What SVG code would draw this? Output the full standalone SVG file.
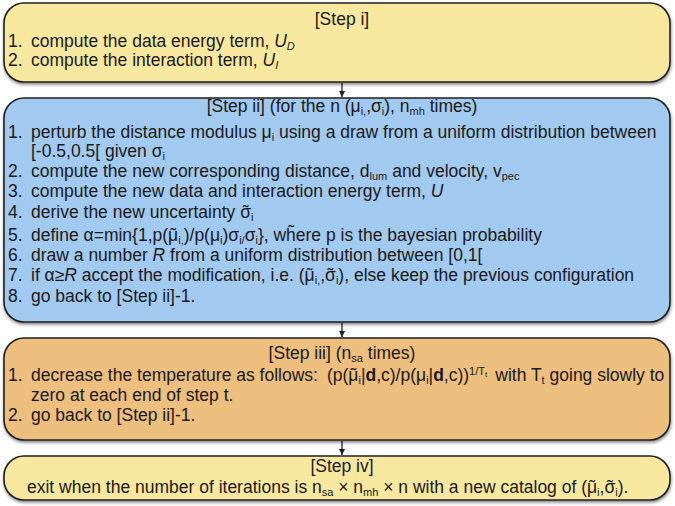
<svg xmlns="http://www.w3.org/2000/svg" width="675" height="506" viewBox="0 0 675 506">
<style>
text{font-family:"Liberation Sans",Arial,"DejaVu Sans",sans-serif;font-size:17.5px;fill:#1a1a1a}
.box{stroke:#1f1f1f;stroke-width:1.6;filter:url(#sh)}
.y{fill:#F8E89F}
.b{fill:#A2C9EF}
.o{fill:#EDBE7E}
.s{font-size:11px}
.c{text-anchor:middle}
.conn{stroke:#1f1f1f;stroke-width:1.3;fill:none;marker-end:url(#ah)}
</style>
<defs>
<filter id="sh" x="-5%" y="-10%" width="110%" height="130%">
<feDropShadow dx="0.5" dy="2" stdDeviation="1.5" flood-color="#000" flood-opacity="0.45"/>
</filter>
<marker id="ah" markerWidth="8" markerHeight="8" refX="6" refY="3" orient="auto" markerUnits="userSpaceOnUse">
<path d="M0,0 L6,3 L0,6 z" fill="#1f1f1f"/>
</marker>
</defs>

<g id="connectors">
<line class="conn" x1="342" y1="83" x2="342" y2="97"/>
<line class="conn" x1="342" y1="323" x2="342" y2="337"/>
<line class="conn" x1="342" y1="441" x2="342" y2="455"/>
</g>

<g id="step-i">
<rect class="box y" x="4" y="3" width="666" height="79" rx="20"/>
<text class="c" x="342" y="25">[Step i]</text>
<text y="47"><tspan x="8">1.</tspan><tspan x="31">compute the data energy term, </tspan><tspan font-style="italic">U</tspan><tspan class="s" font-style="italic" dy="3">D</tspan></text>
<text y="66"><tspan x="8">2.</tspan><tspan x="31">compute the interaction term, </tspan><tspan font-style="italic">U</tspan><tspan class="s" font-style="italic" dy="3">I</tspan></text>
</g>

<g id="step-ii">
<rect class="box b" x="4" y="98" width="666" height="224" rx="20"/>
<text class="c" x="342" y="112">[Step ii] (for the n (μ<tspan class="s" dy="3">i,</tspan><tspan dy="-3">,σ</tspan><tspan class="s" dy="3">i</tspan><tspan dy="-3">), n</tspan><tspan class="s" dy="3">mh</tspan><tspan dy="-3"> times)</tspan></text>
<text y="138"><tspan x="8">1.</tspan><tspan x="31">perturb the distance modulus μ</tspan><tspan class="s" dy="3">i</tspan><tspan dy="-3"> using a draw from a uniform distribution between</tspan></text>
<text y="157"><tspan x="31">[-0.5,0.5[ given σ</tspan><tspan class="s" dy="3">i</tspan></text>
<text y="177"><tspan x="8">2.</tspan><tspan x="31">compute the new corresponding distance, d</tspan><tspan class="s" dy="3">lum</tspan><tspan dy="-3"> and velocity, v</tspan><tspan class="s" dy="3">pec</tspan></text>
<text y="197"><tspan x="8">3.</tspan><tspan x="31">compute the new data and interaction energy term, </tspan><tspan font-style="italic">U</tspan></text>
<text y="218"><tspan x="8">4.</tspan><tspan x="31">derive the new uncertainty σ</tspan><tspan dx="-8.3">˜</tspan><tspan class="s" dx="2.5" dy="3">i</tspan></text>
<text y="241"><tspan x="8">5.</tspan><tspan x="31">define α=min{1,p(μ</tspan><tspan dx="-7.9">˜</tspan><tspan class="s" dx="2.1" dy="3">i,</tspan><tspan dy="-3">)/p(μ</tspan><tspan class="s" dy="3">i</tspan><tspan dy="-3">)σ</tspan><tspan class="s" dy="3">i/</tspan><tspan dy="-3">σ</tspan><tspan class="s" dy="3">i</tspan><tspan dy="-3">}, wh</tspan><tspan dx="-7.7" dy="-3">˜</tspan><tspan dx="1.8" dy="3">ere p is the bayesian probability</tspan></text>
<text y="261"><tspan x="8">6.</tspan><tspan x="31">draw a number </tspan><tspan font-style="italic">R</tspan><tspan> from a uniform distribution between [0,1[</tspan></text>
<text y="281"><tspan x="8">7.</tspan><tspan x="31">if α≥</tspan><tspan font-style="italic">R</tspan><tspan> accept the modification, i.e. (μ</tspan><tspan dx="-7.9">˜</tspan><tspan class="s" dx="2.1" dy="3">i,</tspan><tspan dy="-3">,σ</tspan><tspan dx="-8.3">˜</tspan><tspan class="s" dx="2.5" dy="3">i</tspan><tspan dy="-3">), else keep the previous configuration</tspan></text>
<text y="302"><tspan x="8">8.</tspan><tspan x="31">go back to [Step ii]-1.</tspan></text>
</g>

<g id="step-iii">
<rect class="box o" x="4" y="338" width="666" height="102" rx="20"/>
<text class="c" x="342" y="359">[Step iii] (n<tspan class="s" dy="3">sa</tspan><tspan dy="-3"> times)</tspan></text>
<text y="381"><tspan x="8">1.</tspan><tspan x="31">decrease the temperature as follows:</tspan><tspan dx="9">(p(μ</tspan><tspan dx="-7.9">˜</tspan><tspan class="s" dx="2.1" dy="3">i</tspan><tspan dy="-3">|</tspan><tspan font-weight="bold">d</tspan><tspan>,c)/p(μ</tspan><tspan class="s" dy="3">i</tspan><tspan dy="-3">|</tspan><tspan font-weight="bold">d</tspan><tspan>,c))</tspan><tspan class="s" dy="-6">1/T</tspan><tspan font-size="8" dy="2">t</tspan><tspan dx="8" dy="4">with T</tspan><tspan class="s" dy="3">t</tspan><tspan dy="-3"> going slowly to</tspan></text>
<text y="401"><tspan x="31">zero at each end of step t.</tspan></text>
<text y="421"><tspan x="8">2.</tspan><tspan x="31">go back to [Step ii]-1.</tspan></text>
</g>

<g id="step-iv">
<rect class="box y" x="4" y="456" width="666" height="44" rx="20"/>
<text class="c" x="342" y="472">[Step iv]</text>
<text x="27" y="493">exit when the number of iterations is n<tspan class="s" dy="3">sa</tspan><tspan dy="-3"> × n</tspan><tspan class="s" dy="3">mh</tspan><tspan dy="-3"> × n with a new catalog of (μ</tspan><tspan dx="-7.9">˜</tspan><tspan class="s" dx="2.1" dy="3">i</tspan><tspan dy="-3">,σ</tspan><tspan dx="-8.3">˜</tspan><tspan class="s" dx="2.5" dy="3">i</tspan><tspan dy="-3">).</tspan></text>
</g>
</svg>
